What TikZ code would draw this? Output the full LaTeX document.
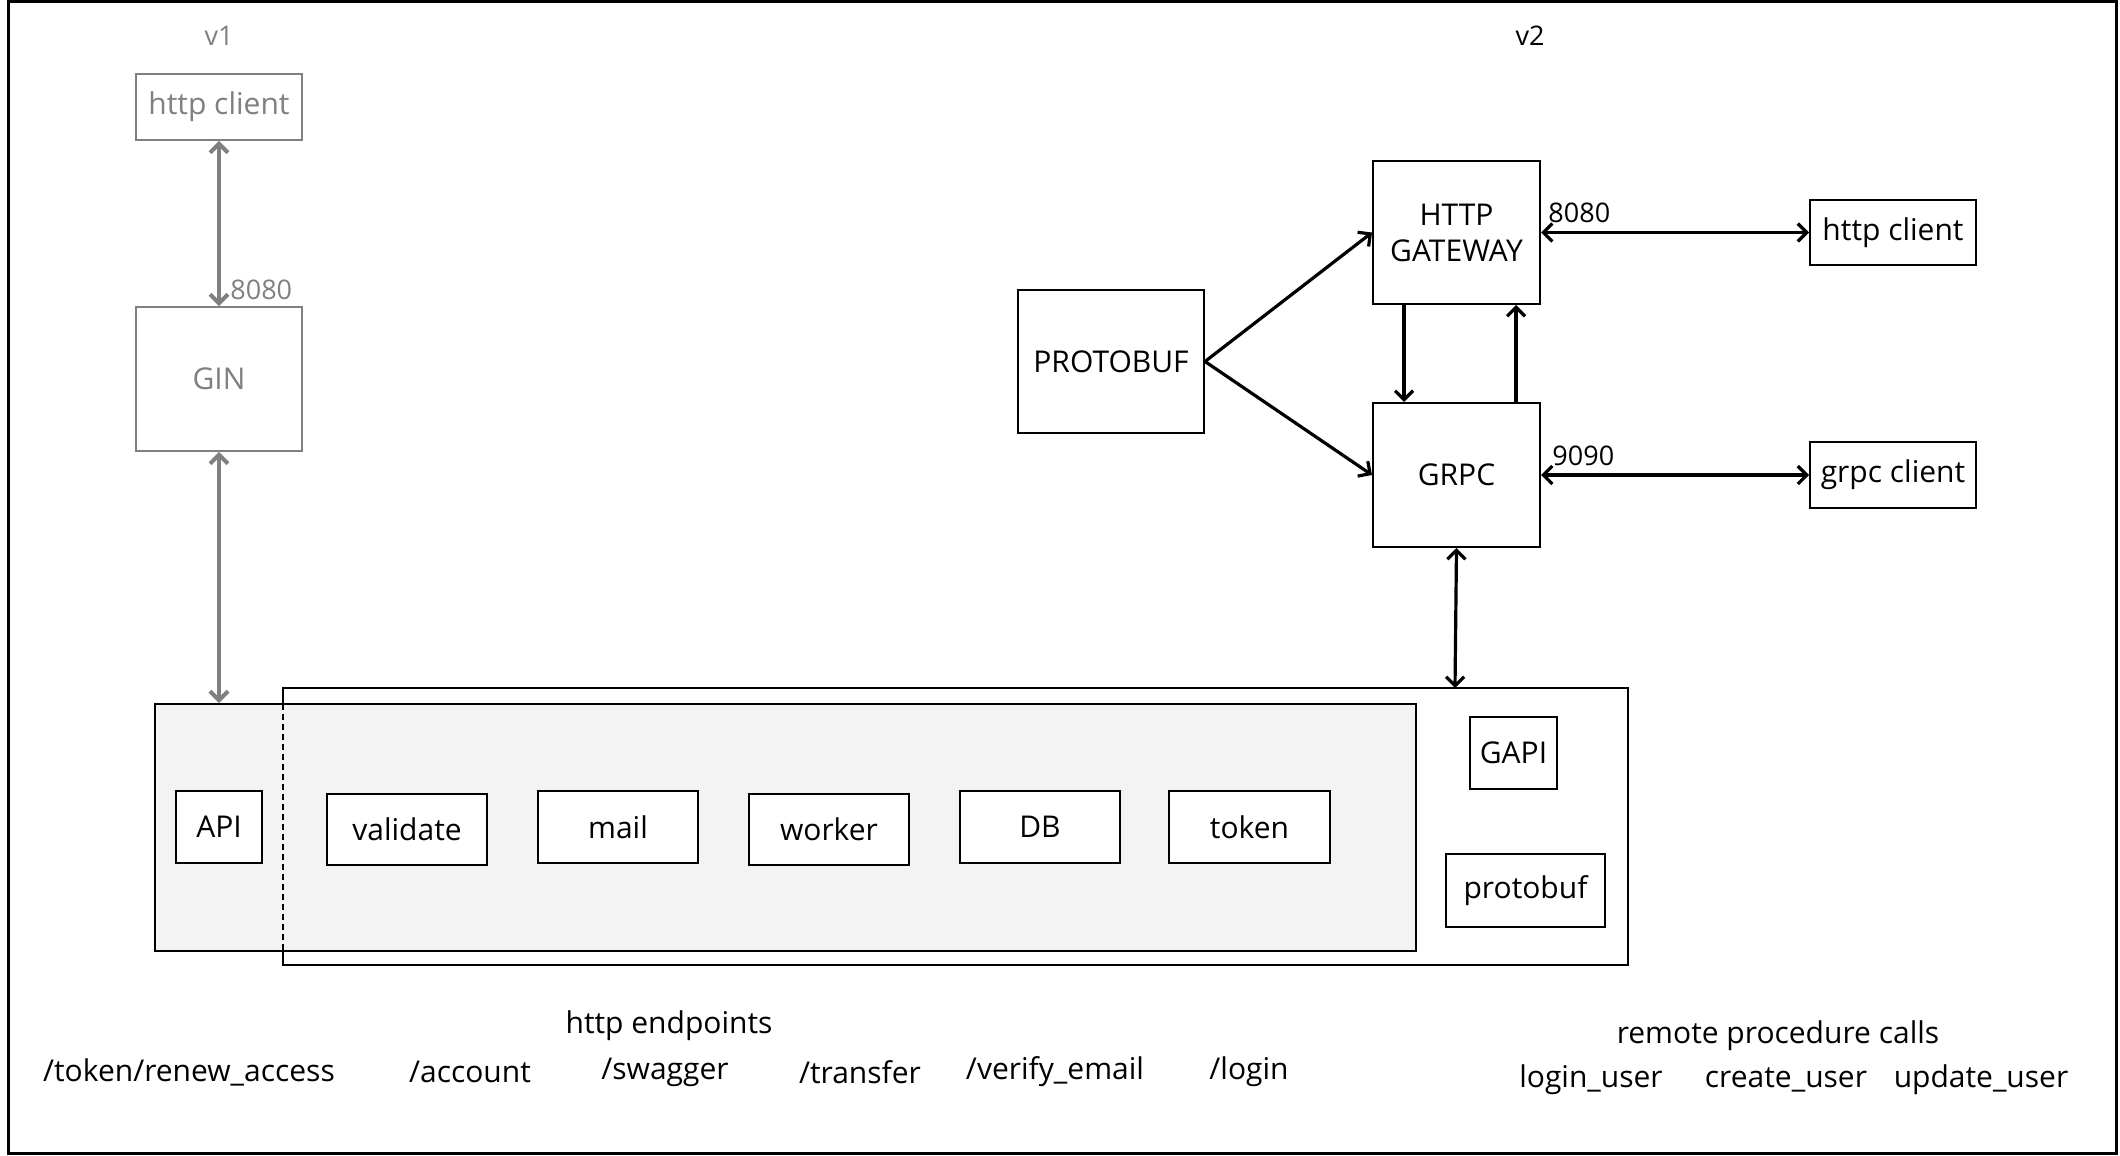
\documentclass[tikz,border=0pt]{standalone}
\usepackage{fontspec}
\setmainfont{Open Sans}
\usetikzlibrary{arrows.meta}
\definecolor{dimgray}{HTML}{808080}
\definecolor{corefill}{HTML}{F3F3F3}
\begin{document}
\begin{tikzpicture}[x=0.5pt,y=-0.5pt,
  txt/.style={inner sep=0pt, font=\fontsize{15}{17}\selectfont},
  box/.style={draw=black, line width=1pt, fill=white, inner sep=0pt, align=center,
              font=\fontsize{15}{18}\selectfont},
  oldbox/.style={box, draw=dimgray, text=dimgray, line width=0.9pt},
  sz/.style 2 args={minimum width=#1*0.5pt, minimum height=#2*0.5pt},
  tip/.tip={Straight Barb[length=4.5pt,width=9pt]},
  link/.style={line width=1.6pt, draw=black},
  oldlink/.style={line width=2pt, draw=dimgray},
]
\useasboundingbox (0,0) rectangle (2120,1156);
\draw[line width=1.5pt] (8,2) rectangle (2116,1153);

% ---- v1 ----
\node[txt, text=dimgray, font=\fontsize{13.5}{15}\selectfont] (v1) at (219,36) {v1};
\node[oldbox, sz={166}{66}] (hc1) at (219,107) {http client};
\node[oldbox, sz={166}{144}] (gin) at (219,379) {GIN};
\node[txt, text=dimgray, anchor=west, font=\fontsize{13.5}{15}\selectfont] (p1) at (230,290) {8080};

% ---- v2 ----
\node[txt, font=\fontsize{13.5}{15}\selectfont] (v2) at (1530,36) {v2};
\node[box, sz={167}{143}] (gw) at (1456.5,232.5) {HTTP\\GATEWAY};
\node[box, sz={167}{144}] (grpc) at (1456.5,475) {GRPC};
\node[box, sz={186}{143}] (proto) at (1111,361.5) {PROTOBUF};
\node[box, sz={166}{65}] (hc2) at (1893,232.5) {http client};
\node[box, sz={166}{66}] (gc) at (1893,475) {grpc client};
\node[txt, anchor=west, font=\fontsize{13.5}{15}\selectfont] (p2) at (1548,213) {8080};
\node[txt, anchor=west, font=\fontsize{13.5}{15}\selectfont] (p3) at (1552,456) {9090};

% ---- service layer ----
\draw[line width=1pt, fill=white] (283,688) rectangle (1628,965);
\coordinate (bigtop) at (1455,688);
\node[draw=black, line width=1pt, fill=corefill, inner sep=0pt, sz={1261}{247}] (core) at (785.5,827.5) {};
\draw[line width=0.7pt, dash pattern=on 3pt off 2pt] (283,704) -- (283,951);

\node[box, sz={86}{72}] (api) at (219,827) {API};
\node[box, sz={160}{71}] (val) at (407,829.5) {validate};
\node[box, sz={160}{72}] (mail) at (618,827) {mail};
\node[box, sz={160}{71}] (worker) at (829,829.5) {worker};
\node[box, sz={160}{72}] (db) at (1040,827) {DB};
\node[box, sz={161}{72}] (tok) at (1249.5,827) {token};
\node[box, sz={87}{72}] (gapi) at (1513.5,753) {GAPI};
\node[box, sz={159}{73}] (pbuf) at (1525.5,890.5) {protobuf};

% ---- endpoint lists ----
\node[txt] (he) at (669,1026) {http endpoints};
\node[txt] (e1) at (189,1072) {/token/renew\_access};
\node[txt] (e2) at (470,1072) {/account};
\node[txt] (e3) at (665,1072) {/swagger};
\node[txt] (e4) at (860,1072) {/transfer};
\node[txt] (e5) at (1055,1072) {/verify\_email};
\node[txt] (e6) at (1249,1072) {/login};
\node[txt] (rpc) at (1778,1036) {remote procedure calls};
\node[txt] (r1) at (1591,1080) {login\_user};
\node[txt] (r2) at (1786,1080) {create\_user};
\node[txt] (r3) at (1981,1080) {update\_user};

% ---- connectors ----
\draw[oldlink, tip-tip] (hc1.south) -- (gin.north);
\draw[oldlink, tip-tip] (gin.south) -- (gin.south |- core.north);
\draw[link, -tip] (proto.east) -- (gw.west);
\draw[link, -tip] (proto.east) -- (grpc.west);
\draw[link, -tip] ([xshift=-26.25pt]gw.south) -- ([xshift=-26.25pt]grpc.north);
\draw[link, -tip] ([xshift=29.75pt]grpc.north) -- ([xshift=29.75pt]gw.south);
\draw[link, tip-tip] (gw.east) -- (hc2.west);
\draw[link, tip-tip] (grpc.east) -- (gc.west);
\draw[link, tip-tip] (grpc.south) -- (bigtop);
\end{tikzpicture}
\end{document}
